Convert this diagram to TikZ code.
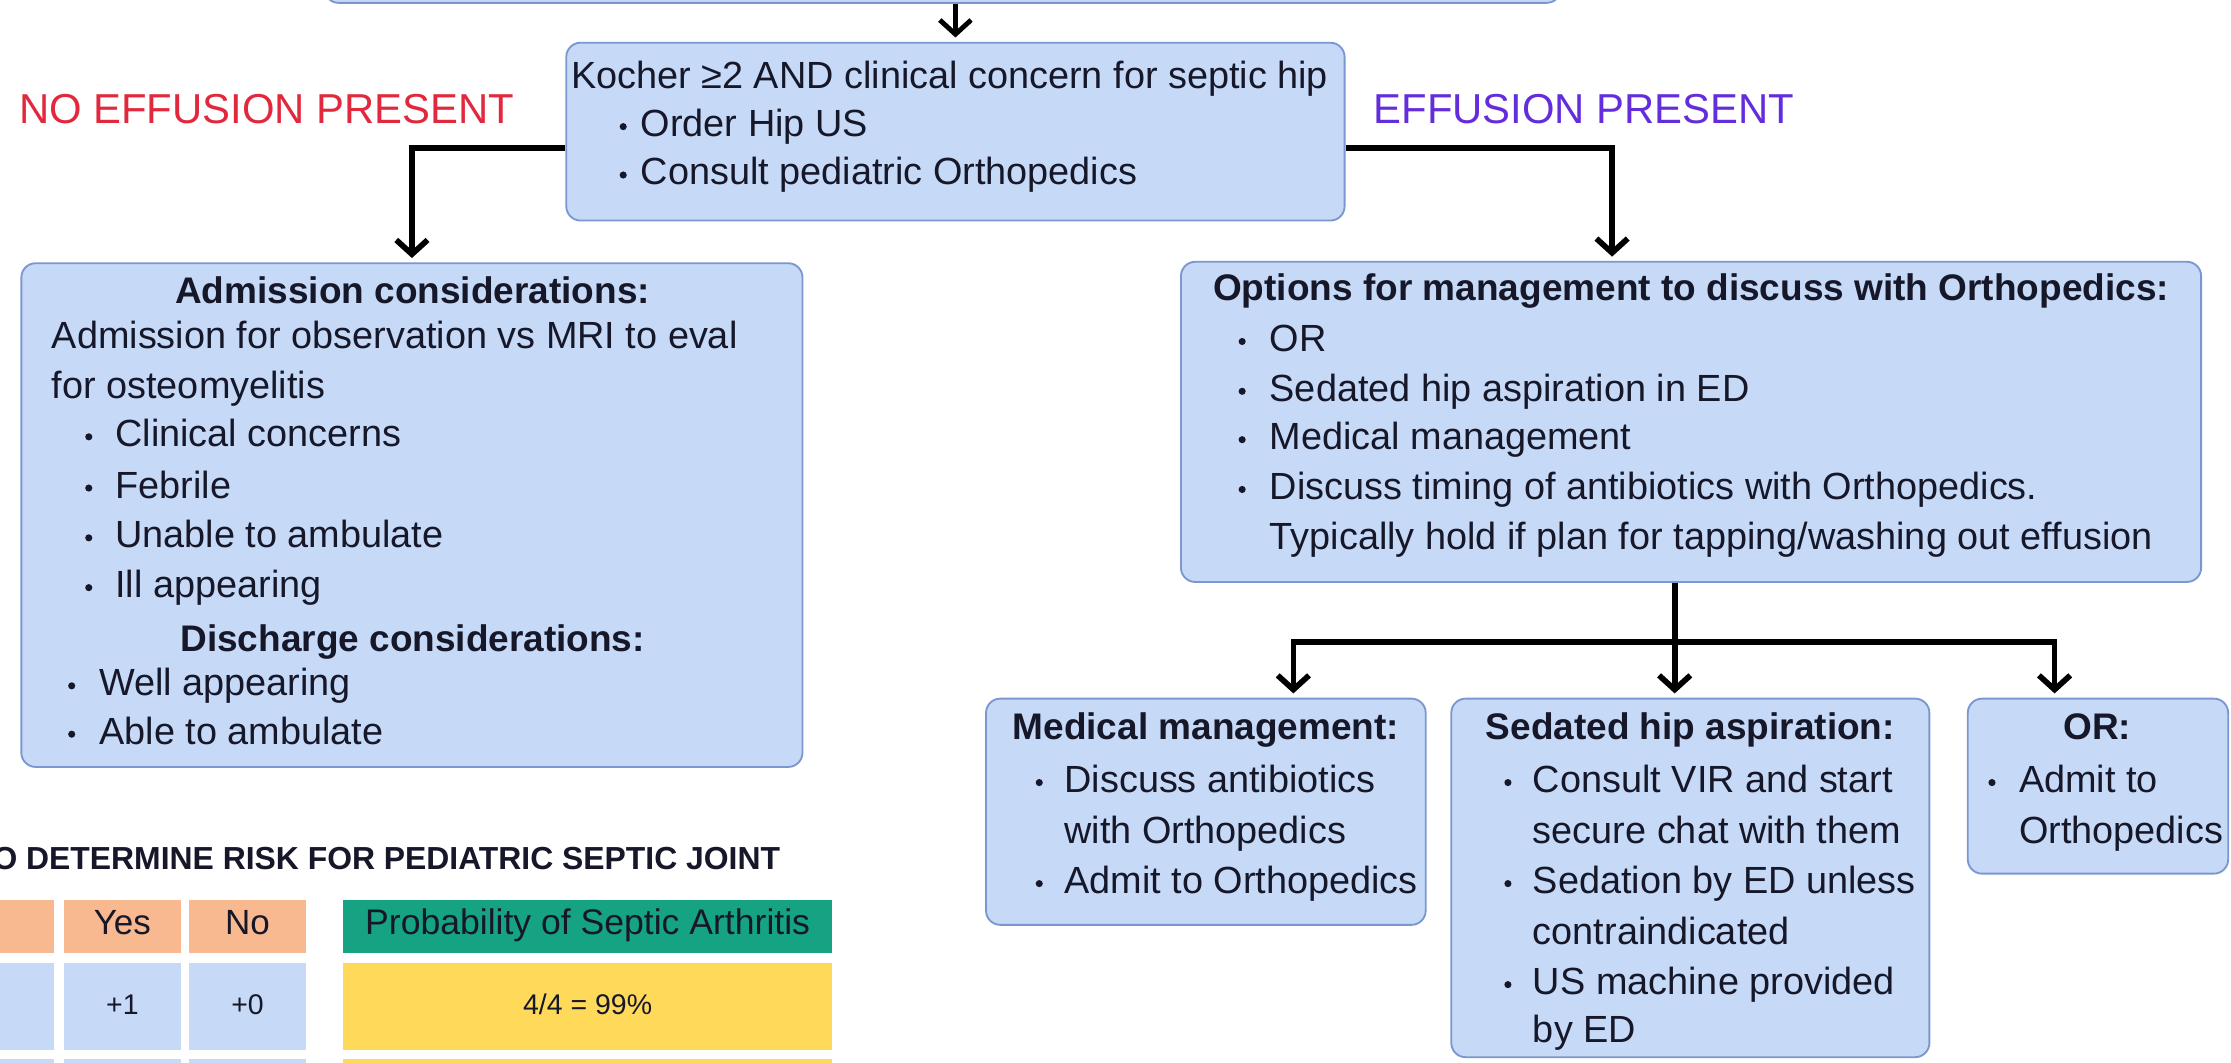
\documentclass[tikz,border=0pt]{standalone}
\usepackage{fontspec}
\setmainfont{Liberation Sans}
\usetikzlibrary{arrows.meta,fit}
\definecolor{boxfill}{HTML}{C6D9F6}
\definecolor{boxline}{HTML}{7B97CF}
\definecolor{ink}{HTML}{16182A}
\definecolor{redlab}{HTML}{E2283C}
\definecolor{purlab}{HTML}{642DDC}
\definecolor{orangec}{HTML}{F8B991}
\definecolor{tealc}{HTML}{16A383}
\definecolor{yellowc}{HTML}{FFD95A}
\newcommand\bodysize{\fontsize{13.3}{16}\selectfont}
\newcommand\headsize{\fontsize{13}{16}\selectfont\bfseries}
\newcommand\mytl[4]{\node[txt] (#1) at (#2,{#3+9}) {#4};}
\newcommand\mybl[5]{\node[dotb] (#1d) at (#2,{#4+2}) {}; \node[txt] (#1) at (#3,{#4+9}) {#5};}
\newcommand\myhl[4]{\node[hd] (#1) at (#2,{#3+9}) {#4};}
\newcommand\mycell[6]{\node[cell, fill=#6, fit={(#2,#3) (#4,#5)}] (#1) {};}
\tikzset{
 box/.style={draw=boxline, fill=boxfill, line width=0.65pt, rounded corners=5pt, inner sep=0pt},
 cell/.style={inner sep=0pt, draw=none},
 txt/.style={anchor=base west, inner sep=0pt, text=ink, font=\bodysize},
 hd/.style={anchor=base, inner sep=0pt, text=ink, font=\headsize},
 dotb/.style={circle, fill=ink, inner sep=0pt, minimum size=2.5pt},
 arr/.style={line width=2pt, -{Straight Barb[length=5pt,width=11pt]}, shorten >=1.5pt},
 ctext/.style={anchor=mid, inner sep=0pt, text=ink},
}
\begin{document}
\begin{tikzpicture}[x=0.5pt,y=-0.5pt]
\useasboundingbox (0,0) rectangle (1568,746.4);
\clip (0,0) rectangle (1568,746.4);

% boxes
\node[box, fit={(228,-30) (1097,2)}] (topbox) {};
\node[box, fit={(398,30) (945,155)}] (kocher) {};
\node[box, fit={(15,185) (564,539)}] (adm) {};
\node[box, fit={(830,184) (1547,409)}] (opt) {};
\node[box, fit={(693,491) (1002,650)}] (med) {};
\node[box, fit={(1020,491) (1356,743)}] (sed) {};
\node[box, fit={(1383,491) (1566,614)}] (orx) {};

% labels
\node[anchor=base west, inner sep=0pt, font=\fontsize{14.7}{16}\selectfont, text=redlab] (noeff) at (13,86.7) {NO EFFUSION PRESENT};
\node[anchor=base west, inner sep=0pt, font=\fontsize{14.7}{16}\selectfont, text=purlab] (eff) at (965,86.7) {EFFUSION PRESENT};

% Kocher box
\mytl{k1}{401}{53}{Kocher ≥2 AND clinical concern for septic hip}
\mybl{k2}{438}{450}{87}{Order Hip US}
\mybl{k3}{438}{450}{121}{Consult pediatric Orthopedics}

% Admission box
\myhl{a0}{290}{204}{Admission considerations:}
\mytl{a1}{36}{236}{Admission for observation vs MRI to eval}
\mytl{a2}{36}{271}{for osteomyelitis}
\mybl{a3}{62.4}{80.7}{305}{Clinical concerns}
\mybl{a4}{62.4}{80.7}{341}{Febrile}
\mybl{a5}{62.4}{80.7}{376}{Unable to ambulate}
\mybl{a6}{62.4}{80.7}{411}{Ill appearing}
\myhl{a7}{290}{449}{Discharge considerations:}
\mybl{a8}{50.4}{69.4}{480}{Well appearing}
\mybl{a9}{50.4}{69.4}{514}{Able to ambulate}

% Options box
\myhl{o0}{1188.5}{202}{Options for management to discuss with Orthopedics:}
\mybl{o1}{873}{892}{238}{OR}
\mybl{o2}{873}{892}{273}{Sedated hip aspiration in ED}
\mybl{o3}{873}{892}{307}{Medical management}
\mybl{o4}{873}{892}{342}{Discuss timing of antibiotics with Orthopedics.}
\mytl{o5}{892}{377}{Typically hold if plan for tapping/washing out effusion}

% Medical management
\myhl{m0}{847.5}{511}{Medical management:}
\mybl{m1}{730.4}{747.7}{548}{Discuss antibiotics}
\mytl{m2}{747.7}{584}{with Orthopedics}
\mybl{m3}{730.4}{747.7}{619}{Admit to Orthopedics}

% Sedated hip aspiration
\myhl{s0}{1188}{511}{Sedated hip aspiration:}
\mybl{s1}{1059.8}{1077}{548}{Consult VIR and start}
\mytl{s2}{1077}{584}{secure chat with them}
\mybl{s3}{1059.8}{1077}{619}{Sedation by ED unless}
\mytl{s4}{1077}{655}{contraindicated}
\mybl{s5}{1059.8}{1077}{690}{US machine provided}
\mytl{s6}{1077}{724}{by ED}

% OR
\myhl{r0}{1474}{511}{OR:}
\mybl{r1}{1400}{1418.6}{548}{Admit to}
\mytl{r2}{1418.6}{584}{Orthopedics}

% connectors
\coordinate (kl) at (398,104);
\coordinate (kr) at (1133,104);
\coordinate (br) at (1177,451);
\coordinate (bll) at (909,451);
\coordinate (brr) at (1444,451);
\draw[arr, line width=1.7pt] (topbox.south -| kocher.north) -- (kocher.north);
\draw[arr] (kocher.west |- kl) -| (adm.north);
\draw[arr] (kocher.east |- kr) -| (opt.north -| kr);
\draw[arr] (opt.south -| br) -- (sed.north -| br);
\draw[arr] (br) -| (med.north -| bll);
\draw[arr] (br) -| (orx.north -| brr);

% table
\node[anchor=base east, inner sep=0pt, font=\fontsize{11.2}{13}\selectfont\bfseries, text=ink] (ttl) at (548.6,611) {TO DETERMINE RISK FOR PEDIATRIC SEPTIC JOINT};
\mycell{h1}{-10}{632.6}{38}{670}{orangec}
\mycell{h2}{45}{632.6}{127}{670}{orangec}
\mycell{h3}{133}{632.6}{215}{670}{orangec}
\mycell{h4}{241}{632.6}{585}{670}{tealc}
\mycell{b1}{-10}{677}{38}{738}{boxfill}
\mycell{b2}{45}{677}{127}{738}{boxfill}
\mycell{b3}{133}{677}{215}{738}{boxfill}
\mycell{b4}{241}{677}{585}{738}{yellowc}
\mycell{c1}{-10}{744}{38}{770}{boxfill}
\mycell{c2}{45}{744}{127}{770}{boxfill}
\mycell{c3}{133}{744}{215}{770}{boxfill}
\mycell{c4}{241}{744}{585}{770}{yellowc}
\node[ctext, font=\fontsize{12.3}{14}\selectfont] (h2t) at (h2) {Yes};
\node[ctext, font=\fontsize{12.3}{14}\selectfont] (h3t) at (h3) {No};
\node[ctext, font=\fontsize{12.5}{14}\selectfont] (h4t) at (h4) {Probability of Septic Arthritis};
\node[ctext, font=\fontsize{10}{12}\selectfont] (b2t) at (b2) {+1};
\node[ctext, font=\fontsize{10}{12}\selectfont] (b3t) at (b3) {+0};
\node[ctext, font=\fontsize{10}{12}\selectfont] (b4t) at (b4) {4/4 = 99\%};
\end{tikzpicture}
\end{document}
